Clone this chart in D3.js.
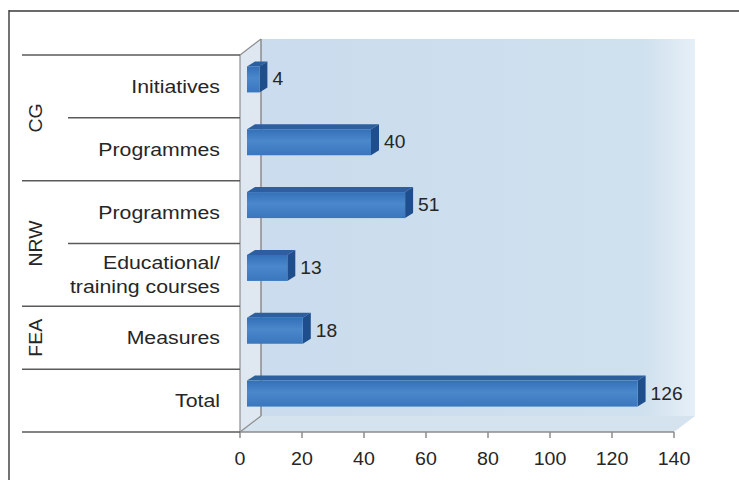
<!DOCTYPE html>
<html>
<head>
<meta charset="utf-8">
<script src="https://cdn.jsdelivr.net/npm/d3@7"></script>
<style>
  html, body { margin: 0; padding: 0; background: #fff; }
  svg { display: block; }
  text { font-family: "Liberation Sans", Arial, sans-serif; fill: #262626; }
</style>
</head>
<body>
<div class="graph-bd"></div>
<script>
// data
const categories = ["Initiatives", "Programmes", "Programmes", "Educational/|training courses", "Measures", "Total"];
const groups = ["CG", "CG", "NRW", "NRW", "FEA", ""];
const values = [4, 40, 51, 13, 18, 126];
const ticks = [0, 20, 40, 60, 80, 100, 120, 140];

function run() {
    let root = document.querySelector('.graph-bd')
    let w = 739, h = 480
    let svg = d3.select(root).append("svg")
        .attr("width", w)
        .attr("height", h)

    let defs = svg.append("defs")
    let bg = defs.append("linearGradient").attr("id", "wall").attr("x1", 0).attr("x2", 1)
    bg.append("stop").attr("offset", "0").attr("stop-color", "#cadced")
    bg.append("stop").attr("offset", "0.88").attr("stop-color", "#cfe0ee")
    bg.append("stop").attr("offset", "1").attr("stop-color", "#e6eff7")
    let bar = defs.append("linearGradient").attr("id", "bar").attr("x1", 0).attr("x2", 0).attr("y1", 0).attr("y2", 1)
    bar.append("stop").attr("offset", "0").attr("stop-color", "#3470b8")
    bar.append("stop").attr("offset", "0.45").attr("stop-color", "#4a87cb")
    bar.append("stop").attr("offset", "1").attr("stop-color", "#3a76bd")

    // frame
    svg.append("line").attr("x1", 9).attr("x2", w).attr("y1", 11).attr("y2", 11)
        .attr("stroke", "#6a6a6a").attr("stroke-width", 2)
    svg.append("line").attr("x1", 9).attr("x2", 9).attr("y1", 10).attr("y2", h)
        .attr("stroke", "#444").attr("stroke-width", 1.5)

    // scales
    let x = d3.scaleLinear().domain([0, 140]).range([240, 674])
    let y = d3.scaleBand().domain(d3.range(categories.length)).range([55, 432])
    let DX = 21, DY = -16
    let top = y.range()[0], bottom = y.range()[1]

    // back wall, floor, side wall
    svg.append("rect")
        .attr("x", x(0) + DX).attr("y", top + DY)
        .attr("width", x(140) - x(0)).attr("height", bottom - top)
        .attr("fill", "url(#wall)")
    svg.append("polygon")
        .attr("points", [[x(0), bottom], [x(0) + DX, bottom + DY], [x(140) + DX, bottom + DY], [x(140), bottom]].join(" "))
        .attr("fill", "#d5e3ef")
    svg.append("polygon")
        .attr("points", [[x(0), top], [x(0) + DX, top + DY], [x(0) + DX, bottom + DY], [x(0), bottom]].join(" "))
        .attr("fill", "#dfe8f1")
    let grey = "#8c8c8c"
    svg.append("line").attr("x1", x(0) + DX).attr("x2", x(0) + DX).attr("y1", top + DY).attr("y2", bottom + DY)
        .attr("stroke", grey).attr("stroke-width", 1.5)
    svg.append("line").attr("x1", x(0)).attr("x2", x(0) + DX).attr("y1", top).attr("y2", top + DY)
        .attr("stroke", grey).attr("stroke-width", 1.2)
    svg.append("line").attr("x1", x(0)).attr("x2", x(0) + DX).attr("y1", bottom).attr("y2", bottom + DY)
        .attr("stroke", grey).attr("stroke-width", 1.2)
    svg.append("line").attr("x1", x(0)).attr("x2", x(0)).attr("y1", top).attr("y2", bottom)
        .attr("stroke", grey).attr("stroke-width", 1.2)

    // x axis
    let axis = svg.append("g")
    axis.append("line").attr("x1", x(0)).attr("x2", x(140)).attr("y1", bottom).attr("y2", bottom)
        .attr("stroke", grey).attr("stroke-width", 1.5)
    axis.selectAll(".tk").data(ticks).enter().append("line")
        .attr("x1", d => x(d)).attr("x2", d => x(d))
        .attr("y1", bottom).attr("y2", bottom + 6)
        .attr("stroke", grey).attr("stroke-width", 1.5)
    axis.selectAll(".tl").data(ticks).enter().append("g")
        .attr("transform", d => "translate(" + x(d) + "," + (bottom + 33) + ") scale(1.06,1)")
        .append("text")
        .attr("text-anchor", "middle")
        .attr("font-size", "18.5px")
        .text(d => d)

    // category separators
    let seps = []
    for (let i = 0; i <= categories.length; i++) {
        let yy = i < categories.length ? y(i) : bottom
        let isGroup = i == 0 || i == categories.length || groups[i] != groups[i - 1]
        seps.push({ y: yy, x0: isGroup ? 22 : 68 })
    }
    svg.selectAll(".sep").data(seps).enter().append("line")
        .attr("x1", d => d.x0).attr("x2", x(0))
        .attr("y1", d => d.y).attr("y2", d => d.y)
        .attr("stroke", "#5a5a5a").attr("stroke-width", 1.5)

    // group labels
    let groupNames = groups.filter((g, i) => g && groups.indexOf(g) == i)
    groupNames.forEach(function(g) {
        let idx = d3.range(groups.length).filter(i => groups[i] == g)
        let cy = (y(idx[0]) + y(idx[idx.length - 1]) + y.bandwidth()) / 2
        svg.append("g")
            .attr("transform", "translate(42," + cy + ") rotate(-90) scale(1.05,1)")
            .append("text")
            .attr("text-anchor", "middle")
            .attr("font-size", "18.5px")
            .text(g)
    })

    // category labels
    categories.forEach(function(c, i) {
        let lines = c.split("|")
        let cy = y(i) + y.bandwidth() / 2
        lines.forEach(function(l, j) {
            let ly = cy + 6.5 + (j - (lines.length - 1) / 2) * 24
            svg.append("g")
                .attr("transform", "translate(220," + ly + ") scale(1.15,1)")
                .append("text")
                .attr("text-anchor", "end")
                .attr("font-size", "18.5px")
                .text(l)
        })
    })

    // bars
    let bx = 7, by = -7, half = 13, sdx = 8, sdy = -5
    let bars = svg.selectAll(".bar").data(values).enter().append("g")
    bars.append("polygon") // top face
        .attr("points", function(d, i) {
            let yc = y(i) + y.bandwidth() / 2 + by
            let x0 = x(0) + bx, x1 = x(d) + bx
            return [[x0, yc - half], [x0 + sdx, yc - half + sdy], [x1 + sdx, yc - half + sdy], [x1, yc - half]].join(" ")
        })
        .attr("fill", "#2c5f9f")
    bars.append("polygon") // side face
        .attr("points", function(d, i) {
            let yc = y(i) + y.bandwidth() / 2 + by
            let x1 = x(d) + bx
            return [[x1, yc - half], [x1 + sdx, yc - half + sdy], [x1 + sdx, yc + half + sdy], [x1, yc + half]].join(" ")
        })
        .attr("fill", "#1f4e8c")
    bars.append("rect") // front face
        .attr("x", x(0) + bx)
        .attr("y", (d, i) => y(i) + y.bandwidth() / 2 + by - half)
        .attr("width", d => x(d) - x(0))
        .attr("height", half * 2)
        .attr("fill", "url(#bar)")

    // value labels
    svg.selectAll(".val").data(values).enter().append("g")
        .attr("transform", (d, i) => "translate(" + (x(d) + bx + sdx + 5) + "," + (y(i) + y.bandwidth() / 2 + by + 6) + ") scale(1.04,1)")
        .append("text")
        .attr("font-size", "18.5px")
        .text(d => d)
}
window.addEventListener('load', run)
</script>
</body>
</html>
